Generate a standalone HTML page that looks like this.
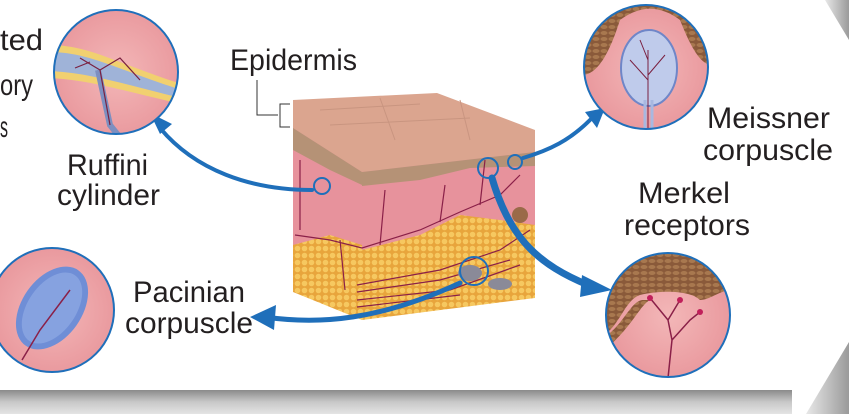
<!DOCTYPE html>
<html><head><meta charset="utf-8"><style>
html,body{margin:0;padding:0;background:#fff;}
svg{display:block}
text{font-family:"Liberation Sans",sans-serif;font-size:30px;fill:#231f20;}
</style></head><body>
<svg width="849" height="414" viewBox="0 0 849 414" xmlns="http://www.w3.org/2000/svg">
<defs>
<linearGradient id="band" x1="0" y1="0" x2="0" y2="1"><stop offset="0" stop-color="#8a8a8a"/><stop offset="0.5" stop-color="#c8c8c8"/><stop offset="1" stop-color="#e4e4e4"/></linearGradient>
<linearGradient id="side" x1="0" y1="0" x2="1" y2="0"><stop offset="0" stop-color="#e8e8e8"/><stop offset="1" stop-color="#9a9a9a"/></linearGradient>
<radialGradient id="pink" cx="0.5" cy="0.5" r="0.5"><stop offset="0" stop-color="#f3b7b8"/><stop offset="1" stop-color="#e9989d"/></radialGradient>
<pattern id="fat" width="7" height="7" patternUnits="userSpaceOnUse"><rect width="7" height="7" fill="#e8a53c"/><circle cx="3.5" cy="3.5" r="2.8" fill="#f6c860"/></pattern>
<pattern id="brown" width="8" height="6" patternUnits="userSpaceOnUse"><rect width="8" height="6" fill="#8a5a3a"/><ellipse cx="4" cy="3" rx="3.5" ry="2" fill="#a8784f"/></pattern>
<clipPath id="c1"><circle cx="116" cy="72" r="62"/></clipPath>
<clipPath id="c2"><circle cx="52" cy="310" r="62"/></clipPath>
<clipPath id="c3"><circle cx="646" cy="67" r="62"/></clipPath>
<clipPath id="c4"><circle cx="668" cy="315" r="62"/></clipPath>
</defs>
<rect x="0" y="390" width="792" height="24" fill="url(#band)"/>
<polygon points="825,0 849,0 849,40" fill="url(#side)"/>
<polygon points="806,414 849,342 849,414" fill="url(#side)"/>

<g lengthAdjust="spacingAndGlyphs">
<text x="0" y="50" textLength="43" lengthAdjust="spacingAndGlyphs">ted</text>
<text x="0" y="95" textLength="33" lengthAdjust="spacingAndGlyphs">ory</text>
<text x="0" y="137" textLength="8" lengthAdjust="spacingAndGlyphs">s</text>
<text x="230" y="70" textLength="127" lengthAdjust="spacingAndGlyphs">Epidermis</text>
<text x="67" y="175" textLength="81" lengthAdjust="spacingAndGlyphs">Ruffini</text>
<text x="57" y="205" textLength="103" lengthAdjust="spacingAndGlyphs">cylinder</text>
<text x="133" y="302" textLength="112" lengthAdjust="spacingAndGlyphs">Pacinian</text>
<text x="125" y="333" textLength="128" lengthAdjust="spacingAndGlyphs">corpuscle</text>
<text x="707" y="128" textLength="123" lengthAdjust="spacingAndGlyphs">Meissner</text>
<text x="703" y="160" textLength="130" lengthAdjust="spacingAndGlyphs">corpuscle</text>
<text x="638" y="203" textLength="92" lengthAdjust="spacingAndGlyphs">Merkel</text>
<text x="624" y="235" textLength="126" lengthAdjust="spacingAndGlyphs">receptors</text>
</g>

<polyline points="257,80 257,115 278,115" fill="none" stroke="#333" stroke-width="1"/>
<polyline points="290,104 280,104 280,127 290,127" fill="none" stroke="#333" stroke-width="1"/>

<!-- cube -->
<polygon points="293,100 362,153 362,320 293,292" fill="url(#fat)"/>
<polygon points="362,153 535,130 535,298 362,320" fill="url(#fat)"/>
<polygon points="293,100 362,153 362,245 330,235 293,245" fill="#e7929c"/>
<polygon points="362,153 535,130 535,225 500,220 460,215 420,235 362,250" fill="#e7929c"/>
<polygon points="293,100 437,93 535,130 535,152 362,172 293,128" fill="#dba58f"/>
<polygon points="293,128 362,172 362,185 330,170 293,150" fill="#b59276"/>
<polygon points="362,172 535,152 535,166 470,168 420,180 362,186" fill="#b59276"/>
<g stroke="#c99580" stroke-width="1" fill="none"><path d="M320,110 L420,104 M330,125 L470,118 M380,98 L395,140 M460,100 L470,140"/></g>
<g stroke="#8a2048" stroke-width="1.2" fill="none">
<path d="M295,235 L330,240 L362,248 L420,230 L460,212 L500,195 L520,175"/>
<path d="M340,240 L345,290 M300,230 L300,160 M380,245 L385,190 M440,222 L445,185 M480,205 L485,160"/>
<path d="M357,285 L440,270 L500,250 L530,230 M357,292 L440,280 L510,260 M357,300 L450,290 L520,265 M357,307 L460,295"/>
</g>
<ellipse cx="470" cy="273" rx="12" ry="8" fill="#8a8a98"/>
<ellipse cx="500" cy="284" rx="12" ry="6" fill="#8a8a98"/>
<ellipse cx="520" cy="215" rx="8" ry="8" fill="#9a6a48"/>
<g fill="none" stroke="#1f6fba" stroke-width="2">
<circle cx="322" cy="186" r="8"/><circle cx="474" cy="271" r="14"/><circle cx="488" cy="168" r="10"/><circle cx="515" cy="162" r="7"/>
</g>

<g fill="none" stroke="#1f6fba" stroke-linecap="round">
<path d="M312,190 C250,190 195,170 160,128" stroke-width="4"/>
<path d="M460,283 C380,320 320,325 265,317" stroke-width="5"/>
<path d="M523,158 C550,150 570,140 590,120" stroke-width="4"/>
<path d="M492,178 C510,240 540,265 588,285" stroke-width="7"/>
</g>
<g fill="#1f6fba">
<polygon points="150,113 172,124 160,134"/>
<polygon points="250,317 276,305 274,330"/>
<polygon points="605,108 585,112 597,128"/>
<polygon points="612,290 582,275 580,297"/>
</g>

<g clip-path="url(#c1)">
<rect x="50" y="5" width="135" height="135" fill="url(#pink)"/>
<path d="M50,45 C90,45 120,65 185,85 L185,105 C120,90 90,80 50,78 Z" fill="#f1d070"/>
<path d="M50,52 C90,52 120,71 185,91 L185,99 C120,83 90,73 50,71 Z" fill="#9fb3d8"/>
<path d="M98,70 L110,125 L118,135" stroke="#7d8fc0" stroke-width="6" fill="none"/>
<g stroke="#7a2040" stroke-width="1.2" fill="none"><path d="M100,70 L110,125 M100,70 L80,58 M100,70 L120,58 L140,80 M90,62 L75,68"/></g>
</g>
<circle cx="116" cy="72" r="62" fill="none" stroke="#1f6fba" stroke-width="2"/>

<g clip-path="url(#c2)">
<rect x="-12" y="246" width="130" height="130" fill="url(#pink)"/>
<ellipse cx="52" cy="308" rx="30" ry="46" transform="rotate(35 52 308)" fill="#6f8ed6"/>
<ellipse cx="52" cy="308" rx="24" ry="40" transform="rotate(35 52 308)" fill="#86a2e0"/>
<path d="M70,290 L40,330 L22,360" stroke="#8a2048" stroke-width="1.5" fill="none"/>
</g>
<circle cx="52" cy="310" r="62" fill="none" stroke="#1f6fba" stroke-width="2"/>

<g clip-path="url(#c3)">
<rect x="582" y="3" width="130" height="130" fill="url(#pink)"/>
<path d="M582,75 C600,75 612,45 620,20 C640,5 660,5 680,20 C690,45 700,65 712,65 L712,0 L582,0 Z" fill="url(#brown)"/>
<ellipse cx="649" cy="68" rx="28" ry="38" fill="#bfcbeb" stroke="#6f86c8" stroke-width="2"/>
<path d="M645,100 L645,130 M652,100 L652,130" stroke="#a8b8e0" stroke-width="3"/>
<g stroke="#7a2040" stroke-width="1" fill="none"><path d="M648,128 L648,50 M648,80 L630,60 M648,75 L665,55 M648,60 L640,40"/></g>
</g>
<circle cx="646" cy="67" r="62" fill="none" stroke="#1f6fba" stroke-width="2"/>

<g clip-path="url(#c4)">
<rect x="604" y="251" width="130" height="130" fill="url(#pink)"/>
<path d="M604,335 C620,325 625,300 640,295 C660,290 690,290 700,300 C710,300 720,290 732,290 L732,250 L604,250 Z" fill="url(#brown)"/>
<path d="M604,337 C622,327 630,302 642,300 L650,300 C640,305 630,330 604,350 Z" fill="url(#brown)"/>
<g stroke="#8a2048" stroke-width="1.5" fill="none"><path d="M668,378 L672,340 L668,320 M672,340 L690,320 L700,312 M668,320 L650,298 M668,320 L680,300"/></g>
<g fill="#c0205a"><circle cx="650" cy="298" r="3"/><circle cx="680" cy="300" r="3"/><circle cx="700" cy="312" r="3"/></g>
</g>
<circle cx="668" cy="315" r="62" fill="none" stroke="#1f6fba" stroke-width="2"/>
</svg>
</body></html>
